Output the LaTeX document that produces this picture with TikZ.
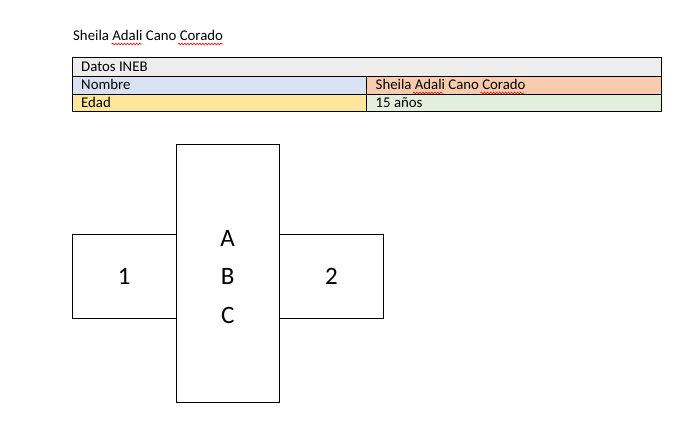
\documentclass[tikz,border=0pt]{standalone}
\usepackage{fontspec}
\setmainfont{Carlito}
\usetikzlibrary{decorations.pathmorphing}
\definecolor{rowgray}{HTML}{EDEDED}
\definecolor{cellblue}{HTML}{D9E2F3}
\definecolor{cellorange}{HTML}{F8CBAD}
\definecolor{cellgold}{HTML}{FFE699}
\definecolor{cellgreen}{HTML}{E2EFDA}
\definecolor{spellred}{HTML}{E02020}
\begin{document}
\begin{tikzpicture}[x=1pt,y=-1pt,
  celltext/.style={anchor=base west,inner sep=0pt,font=\fontsize{14.8}{17}\selectfont},
  cellbox/.style={draw=black,line width=0.9pt},
  shapebox/.style={draw=black,line width=1pt,fill=white,inner sep=0pt,outer sep=0pt,font=\fontsize{25}{38.5}\selectfont,align=center},
  spell/.style={draw=spellred,line width=0.7pt,decorate,decoration={snake,amplitude=0.9pt,segment length=3pt}}
]
\useasboundingbox (0,0) rectangle (700,429);
\fill[white] (0,0) rectangle (700,429);
% title
\node[celltext] (title) at (73,40) {Sheila Adali Cano Corado};
% table cells
\fill[rowgray] (72.3,57.5) rectangle (661.5,76.5);
\fill[cellblue] (72.3,76.5) rectangle (366.7,94);
\fill[cellorange] (366.7,76.5) rectangle (661.5,94);
\fill[cellgold] (72.3,94) rectangle (366.7,111.7);
\fill[cellgreen] (366.7,94) rectangle (661.5,111.7);
\draw[cellbox] (72.3,57.5) rectangle (661.5,111.7);
\draw[cellbox] (72.3,76.5) -- (661.5,76.5);
\draw[cellbox] (72.3,94) -- (661.5,94);
\draw[cellbox] (366.7,76.5) -- (366.7,111.7);
\node[celltext] (datos) at (81,71) {Datos INEB};
\node[celltext] (nombre) at (81,89.5) {Nombre};
\node[celltext] (nombreval) at (375.5,89.5) {Sheila Adali Cano Corado};
\node[celltext] (edad) at (81,107.5) {Edad};
\node[celltext] (edadval) at (375.5,107.5) {15 años};
% spell-check underlines
\draw[spell] (111.7,44) -- (141.7,44);
\draw[spell] (178,44) -- (223,44);
\draw[spell] (413,93) -- (443,93);
\draw[spell] (480.7,93) -- (524,93);
% shapes
\node[shapebox,minimum width=103.3pt,minimum height=258pt] (center) at (227.7,273.3) {};
\node[shapebox,minimum width=103.7pt,minimum height=84pt,anchor=east] (left) at (center.west |- 0,276.3) {1};
\node[shapebox,minimum width=104pt,minimum height=84pt,anchor=west] (right) at (center.east |- 0,276.3) {2};
\node[inner sep=0pt,font=\fontsize{25}{38.5}\selectfont,align=center] (abc) at (227.7,276.7) {A\\B\\C};
\end{tikzpicture}
\end{document}
